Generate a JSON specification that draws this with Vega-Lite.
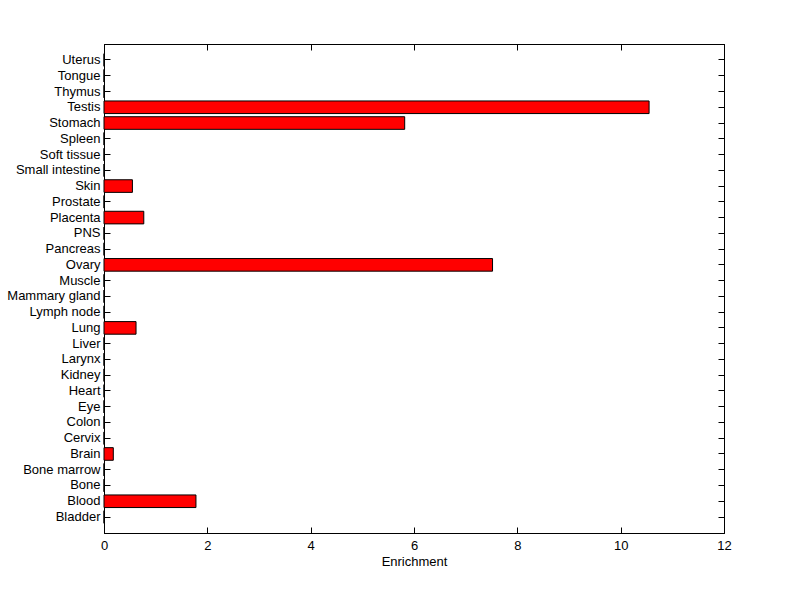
{
  "$schema": "https://vega.github.io/schema/vega-lite/v6.json",
  "autosize": "none",
  "width": 620,
  "height": 489,
  "padding": {"left": 104, "top": 44, "right": 76, "bottom": 66},
  "background": "white",
  "config": {
    "view": {"stroke": "black", "strokeWidth": 1},
    "font": "Liberation Sans",
    "axis": {"domainColor": "black", "tickColor": "black", "labelColor": "black", "titleColor": "black", "grid": false, "labelFont": "Liberation Sans", "titleFont": "Liberation Sans", "labelFontSize": 13, "titleFontSize": 13, "titleFontWeight": "normal", "labelFlush": false}
  },
  "data": {"values": [
    {"tissue": "Bladder", "enrichment": 0},
    {"tissue": "Blood", "enrichment": 1.78},
    {"tissue": "Bone", "enrichment": 0},
    {"tissue": "Bone marrow", "enrichment": 0},
    {"tissue": "Brain", "enrichment": 0.18},
    {"tissue": "Cervix", "enrichment": 0},
    {"tissue": "Colon", "enrichment": 0},
    {"tissue": "Eye", "enrichment": 0},
    {"tissue": "Heart", "enrichment": 0},
    {"tissue": "Kidney", "enrichment": 0},
    {"tissue": "Larynx", "enrichment": 0},
    {"tissue": "Liver", "enrichment": 0},
    {"tissue": "Lung", "enrichment": 0.62},
    {"tissue": "Lymph node", "enrichment": 0},
    {"tissue": "Mammary gland", "enrichment": 0},
    {"tissue": "Muscle", "enrichment": 0},
    {"tissue": "Ovary", "enrichment": 7.52},
    {"tissue": "Pancreas", "enrichment": 0},
    {"tissue": "PNS", "enrichment": 0},
    {"tissue": "Placenta", "enrichment": 0.77},
    {"tissue": "Prostate", "enrichment": 0},
    {"tissue": "Skin", "enrichment": 0.55},
    {"tissue": "Small intestine", "enrichment": 0},
    {"tissue": "Soft tissue", "enrichment": 0},
    {"tissue": "Spleen", "enrichment": 0},
    {"tissue": "Stomach", "enrichment": 5.82},
    {"tissue": "Testis", "enrichment": 10.55},
    {"tissue": "Thymus", "enrichment": 0},
    {"tissue": "Tongue", "enrichment": 0},
    {"tissue": "Uterus", "enrichment": 0}
  ]},
  "layer": [
    {
      "mark": {"type": "bar", "fill": "#FF0000", "stroke": "black", "strokeWidth": 1},
      "encoding": {
        "y": {"field": "tissue", "type": "nominal",
          "sort": ["Uterus","Tongue","Thymus","Testis","Stomach","Spleen","Soft tissue","Small intestine","Skin","Prostate","Placenta","PNS","Pancreas","Ovary","Muscle","Mammary gland","Lymph node","Lung","Liver","Larynx","Kidney","Heart","Eye","Colon","Cervix","Brain","Bone marrow","Bone","Blood","Bladder"],
          "scale": {"paddingInner": 0.2, "paddingOuter": 0.615},
          "axis": {"orient": "left", "title": null, "tickSize": -6, "labelPadding": 10, "domain": true}},
        "x": {"field": "enrichment", "type": "quantitative",
          "scale": {"domain": [0, 12], "nice": false, "zero": true},
          "axis": {"orient": "bottom", "title": "Enrichment", "values": [0,2,4,6,8,10,12], "tickSize": -6, "labelPadding": 12, "titlePadding": 3}}
      }
    },
    {
      "mark": {"type": "bar", "opacity": 0},
      "encoding": {
        "y": {"field": "tissue", "type": "nominal",
          "sort": ["Uterus","Tongue","Thymus","Testis","Stomach","Spleen","Soft tissue","Small intestine","Skin","Prostate","Placenta","PNS","Pancreas","Ovary","Muscle","Mammary gland","Lymph node","Lung","Liver","Larynx","Kidney","Heart","Eye","Colon","Cervix","Brain","Bone marrow","Bone","Blood","Bladder"],
          "axis": {"orient": "right", "title": null, "labels": false, "tickSize": -6}},
        "x": {"field": "enrichment", "type": "quantitative",
          "axis": {"orient": "top", "title": null, "labels": false, "values": [0,2,4,6,8,10,12], "tickSize": -6}}
      }
    }
  ],
  "resolve": {"axis": {"x": "independent", "y": "independent"}}
}
